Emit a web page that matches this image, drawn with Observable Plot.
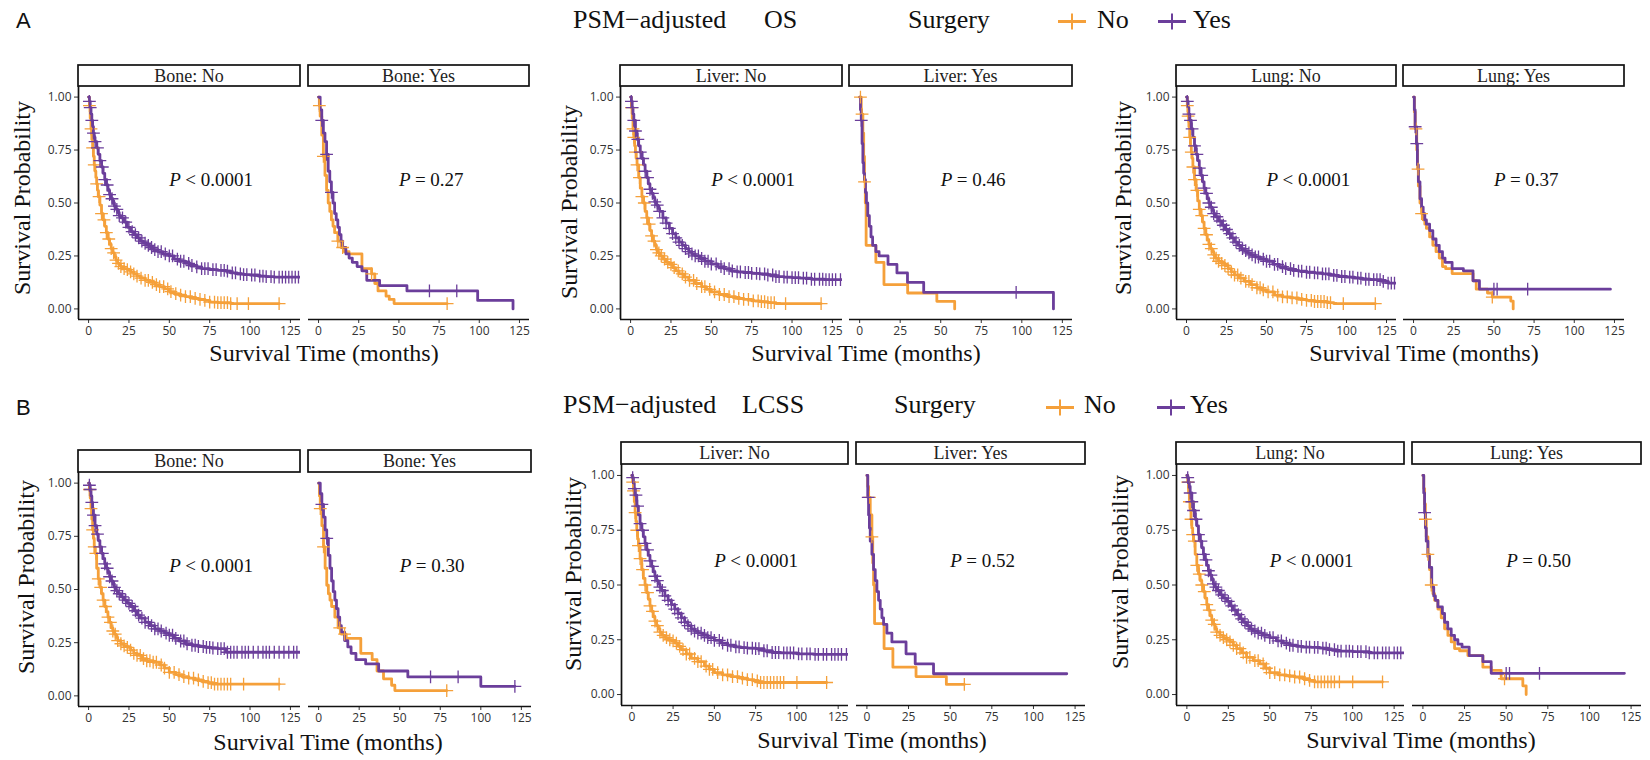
<!DOCTYPE html>
<html><head><meta charset="utf-8">
<script src="https://cdn.jsdelivr.net/npm/d3@7"></script>
<script src="https://cdn.jsdelivr.net/npm/@observablehq/plot@0.6"></script>
<style>
body{margin:0;background:#fff;}
#fig{position:relative;width:1650px;height:760px;overflow:hidden;background:#fff;}
</style></head>
<body><div id="fig"></div>
<script>
// ---------- DATA (time in months, survival probability) ----------
const xTicks = [0, 25, 50, 75, 100, 125];
const yTicks = [0, 0.25, 0.5, 0.75, 1];
const groupsSurgery = ["No", "Yes"];
const rowTitles = ["OS", "LCSS"];
const sites = ["Bone", "Liver", "Lung"];

// Row A (OS)
const aBoneNoS0 = [[0,1],[0.5,0.96],[1,0.9],[1.5,0.85],[2,0.8],[2.5,0.76],[3,0.72],[3.5,0.68],[4,0.65],[4.5,0.62],[5,0.59],[5.5,0.56],[6,0.53],[7,0.49],[8,0.45],[9,0.42],[10,0.39],[11,0.36],[12,0.33],[13,0.305],[14,0.285],[15,0.265],[16,0.245],[17,0.23],[18,0.215],[19,0.205],[20,0.2],[22,0.19],[24,0.185],[26,0.175],[28,0.165],[30,0.155],[32,0.145],[35,0.135],[38,0.125],[41,0.115],[44,0.105],[47,0.095],[50,0.082],[53,0.072],[56,0.065],[60,0.058],[64,0.05],[68,0.045],[72,0.04],[75,0.032],[80,0.03],[88,0.025],[118,0.025]];
const aBoneNoS1 = [[0,1],[0.5,0.98],[1,0.95],[1.5,0.92],[2,0.89],[2.5,0.86],[3,0.83],[3.5,0.81],[4,0.79],[5,0.76],[6,0.73],[7,0.7],[8,0.67],[9,0.64],[10,0.61],[11,0.585],[12,0.56],[13,0.54],[14,0.52],[15,0.5],[16,0.485],[17,0.47],[18,0.455],[19,0.44],[20,0.43],[22,0.41],[24,0.385],[26,0.365],[28,0.35],[30,0.335],[32,0.32],[34,0.31],[36,0.3],[38,0.29],[40,0.28],[43,0.27],[46,0.26],[50,0.25],[53,0.235],[56,0.225],[60,0.215],[63,0.205],[67,0.198],[70,0.19],[75,0.185],[80,0.182],[85,0.178],[88,0.17],[92,0.165],[96,0.162],[100,0.16],[105,0.155],[110,0.152],[115,0.15],[133,0.15]];
const aBoneYesS0 = [[0,1],[0.5,0.96],[1,0.91],[2,0.82],[3,0.72],[4,0.63],[5,0.56],[6,0.5],[7,0.46],[8,0.42],[9,0.39],[10,0.36],[12,0.32],[14,0.29],[16,0.27],[19,0.26],[27,0.19],[33,0.165],[35,0.12],[37,0.085],[42,0.06],[44,0.045],[47,0.025],[80,0.025]];
const aBoneYesS1 = [[0,1],[1,0.94],[2,0.89],[3,0.83],[4,0.79],[5,0.73],[6,0.65],[7,0.6],[8,0.55],[9,0.5],[10,0.45],[11,0.42],[12,0.385],[13,0.35],[14,0.32],[15,0.29],[17,0.26],[19,0.24],[21,0.22],[24,0.2],[27,0.18],[30,0.135],[38,0.11],[55,0.085],[99,0.04],[121,0]];
const aLiverNoS0 = [[0,1],[0.5,0.95],[1,0.9],[1.5,0.85],[2,0.81],[2.5,0.77],[3,0.74],[3.5,0.71],[4,0.68],[5,0.62],[6,0.57],[7,0.53],[8,0.5],[9,0.46],[10,0.43],[11,0.4],[12,0.37],[13,0.345],[14,0.32],[15,0.3],[16,0.28],[17,0.265],[18,0.25],[20,0.235],[22,0.22],[24,0.21],[26,0.195],[28,0.18],[30,0.165],[33,0.15],[36,0.135],[40,0.12],[44,0.105],[47,0.092],[50,0.08],[55,0.068],[60,0.058],[65,0.05],[70,0.045],[75,0.038],[80,0.034],[85,0.03],[90,0.025],[118,0.025]];
const aLiverNoS1 = [[0,1],[0.5,0.98],[1,0.95],[1.5,0.92],[2,0.89],[3,0.84],[4,0.8],[5,0.77],[6,0.74],[7,0.71],[8,0.68],[9,0.65],[10,0.62],[11,0.59],[12,0.565],[13,0.545],[14,0.525],[15,0.505],[16,0.49],[17,0.475],[18,0.46],[20,0.43],[22,0.405],[24,0.38],[26,0.355],[28,0.335],[30,0.315],[32,0.3],[34,0.285],[36,0.27],[38,0.26],[40,0.25],[43,0.238],[46,0.225],[50,0.212],[54,0.2],[58,0.19],[62,0.18],[66,0.175],[70,0.172],[75,0.168],[80,0.165],[85,0.16],[90,0.152],[95,0.15],[100,0.148],[105,0.145],[112,0.14],[120,0.138],[133,0.138]];
const aLiverYesS0 = [[0,1],[1,0.92],[2,0.83],[2.5,0.72],[3,0.6],[3.5,0.5],[4,0.3],[10,0.22],[15,0.115],[29.6,0.075],[47.6,0.036],[58.6,0]];
const aLiverYesS1 = [[0,1],[0.5,0.94],[1,0.89],[1.5,0.78],[2,0.69],[2.5,0.64],[3,0.61],[3.6,0.55],[4.2,0.5],[5,0.44],[6,0.39],[7,0.34],[8,0.3],[10,0.27],[12,0.25],[17.5,0.21],[23,0.17],[29.5,0.125],[39.5,0.078],[119.5,0]];
const aLungNoS0 = [[0,1],[0.5,0.96],[1,0.91],[1.5,0.86],[2,0.81],[2.5,0.77],[3,0.74],[3.5,0.71],[4,0.67],[5,0.61],[6,0.56],[7,0.51],[8,0.47],[9,0.44],[10,0.41],[11,0.38],[12,0.35],[13,0.325],[14,0.305],[15,0.285],[16,0.27],[17,0.255],[18,0.24],[20,0.225],[22,0.215],[24,0.205],[26,0.19],[28,0.175],[30,0.16],[33,0.145],[36,0.13],[40,0.115],[44,0.1],[47,0.09],[50,0.08],[55,0.065],[60,0.057],[65,0.052],[70,0.045],[75,0.04],[80,0.035],[88,0.03],[92,0.025],[118,0.025]];
const aLungNoS1 = [[0,1],[0.5,0.98],[1,0.95],[1.5,0.92],[2,0.89],[3,0.85],[4,0.81],[5,0.77],[6,0.73],[7,0.7],[8,0.665],[9,0.63],[10,0.6],[11,0.57],[12,0.545],[13,0.52],[14,0.5],[15,0.48],[16,0.465],[17,0.45],[18,0.435],[20,0.415],[22,0.395],[24,0.375],[26,0.355],[28,0.335],[30,0.315],[32,0.3],[34,0.285],[36,0.275],[38,0.265],[40,0.255],[43,0.245],[46,0.235],[50,0.225],[54,0.21],[58,0.2],[62,0.19],[66,0.182],[70,0.178],[75,0.173],[80,0.17],[85,0.165],[90,0.158],[95,0.153],[100,0.15],[105,0.145],[110,0.14],[115,0.138],[122,0.13],[126,0.122],[133,0.122]];
const aLungYesS0 = [[0,1],[0.5,0.93],[1,0.85],[2,0.75],[2.5,0.66],[3,0.58],[4,0.5],[5,0.45],[6,0.42],[7,0.4],[8,0.38],[10,0.34],[12,0.3],[14,0.27],[16,0.24],[18,0.2],[20,0.19],[24,0.167],[37,0.133],[39,0.093],[46,0.075],[49,0.056],[60.5,0.037],[62,0]];
const aLungYesS1 = [[0,1],[0.5,0.94],[1,0.86],[1.8,0.78],[2.4,0.68],[3,0.6],[4,0.52],[5,0.48],[6,0.45],[7,0.42],[8,0.4],[10,0.37],[12,0.33],[14,0.3],[16,0.27],[18,0.24],[19.6,0.22],[24,0.19],[31,0.18],[37,0.133],[41,0.093],[122.5,0.093]];

// Row B (LCSS)
const bBoneNoS0 = [[0,1],[0.5,0.97],[1,0.93],[1.5,0.88],[2,0.83],[2.5,0.78],[3,0.74],[3.5,0.7],[4,0.67],[5,0.6],[6,0.55],[7,0.51],[8,0.48],[9,0.45],[10,0.42],[11,0.395],[12,0.37],[13,0.345],[14,0.32],[15,0.305],[16,0.29],[17,0.275],[18,0.26],[20,0.245],[22,0.235],[24,0.228],[26,0.215],[28,0.2],[30,0.19],[33,0.175],[36,0.165],[40,0.158],[44,0.145],[47,0.13],[50,0.11],[54,0.1],[58,0.09],[62,0.083],[66,0.075],[70,0.068],[74,0.062],[77,0.055],[118,0.055]];
const bBoneNoS1 = [[0,1],[0.5,0.99],[1,0.97],[1.5,0.94],[2,0.91],[2.5,0.88],[3,0.85],[4,0.8],[5,0.76],[6,0.73],[7,0.7],[8,0.67],[9,0.645],[10,0.62],[11,0.6],[12,0.58],[13,0.56],[14,0.54],[15,0.525],[16,0.51],[17,0.495],[18,0.48],[20,0.465],[22,0.45],[24,0.435],[26,0.42],[28,0.4],[30,0.38],[32,0.365],[35,0.345],[38,0.33],[41,0.315],[44,0.305],[47,0.295],[50,0.285],[53,0.27],[56,0.258],[60,0.245],[64,0.238],[68,0.232],[72,0.228],[76,0.225],[80,0.222],[85,0.205],[133,0.205]];
const bBoneYesS0 = [[0,1],[0.5,0.94],[1,0.88],[2,0.8],[3,0.7],[4,0.6],[5,0.52],[6,0.48],[7,0.45],[8,0.42],[10,0.37],[12,0.32],[14,0.29],[17,0.27],[26,0.2],[33,0.17],[36,0.117],[40,0.08],[45,0.05],[47,0.025],[79,0.025]];
const bBoneYesS1 = [[0,1],[1,0.95],[2,0.9],[3,0.84],[4,0.78],[5,0.74],[6,0.66],[7,0.6],[8,0.54],[9,0.49],[10,0.45],[11,0.41],[12,0.37],[13,0.33],[14,0.3],[16,0.26],[18,0.23],[20,0.2],[23,0.17],[29,0.15],[37,0.117],[55,0.089],[100,0.045],[121,0.045]];
const bLiverNoS0 = [[0,1],[0.5,0.97],[1,0.93],[1.5,0.88],[2,0.83],[2.5,0.79],[3,0.75],[3.5,0.71],[4,0.68],[5,0.62],[6,0.57],[7,0.53],[8,0.5],[9,0.465],[10,0.435],[11,0.405],[12,0.38],[13,0.355],[14,0.335],[15,0.315],[16,0.3],[17,0.285],[18,0.27],[20,0.26],[22,0.25],[24,0.245],[26,0.235],[28,0.22],[30,0.205],[33,0.185],[36,0.165],[40,0.15],[44,0.13],[47,0.115],[50,0.1],[55,0.09],[60,0.082],[65,0.075],[70,0.068],[74,0.062],[77,0.055],[118,0.055]];
const bLiverNoS1 = [[0,1],[0.5,0.99],[1,0.97],[1.5,0.94],[2,0.91],[3,0.86],[4,0.82],[5,0.78],[6,0.75],[7,0.72],[8,0.69],[9,0.66],[10,0.635],[11,0.61],[12,0.585],[13,0.56],[14,0.54],[15,0.52],[16,0.505],[17,0.49],[18,0.475],[20,0.45],[22,0.43],[24,0.41],[26,0.39],[28,0.37],[30,0.35],[32,0.33],[34,0.315],[36,0.3],[38,0.29],[40,0.28],[43,0.27],[46,0.26],[50,0.247],[54,0.235],[58,0.225],[62,0.218],[66,0.214],[70,0.212],[75,0.21],[80,0.2],[85,0.192],[90,0.19],[100,0.186],[110,0.183],[133,0.183]];
const bLiverYesS0 = [[0,1],[0.5,0.95],[1,0.9],[2,0.82],[3,0.72],[3.5,0.6],[4,0.5],[4.6,0.324],[10.3,0.21],[15.6,0.125],[29.5,0.082],[47.7,0.046],[58.5,0.046]];
const bLiverYesS1 = [[0,1],[0.5,0.9],[1,0.82],[1.5,0.76],[2,0.7],[3,0.64],[4,0.57],[5,0.52],[6,0.47],[7,0.43],[8,0.39],[9,0.35],[10,0.32],[12,0.28],[15,0.24],[23.5,0.186],[29,0.14],[40,0.095],[120,0.095]];
const bLungNoS0 = [[0,1],[0.5,0.97],[1,0.92],[1.5,0.88],[2,0.84],[2.5,0.8],[3,0.76],[3.5,0.73],[4,0.7],[5,0.64],[6,0.59],[7,0.55],[8,0.52],[9,0.5],[10,0.47],[11,0.44],[12,0.41],[13,0.385],[14,0.36],[15,0.34],[16,0.32],[17,0.3],[18,0.285],[20,0.27],[22,0.26],[24,0.25],[26,0.24],[28,0.225],[30,0.21],[33,0.19],[36,0.17],[40,0.155],[44,0.14],[47,0.12],[50,0.1],[55,0.09],[60,0.085],[65,0.08],[70,0.072],[74,0.065],[77,0.058],[118,0.058]];
const bLungNoS1 = [[0,1],[0.5,0.99],[1,0.97],[1.5,0.95],[2,0.92],[3,0.88],[4,0.84],[5,0.8],[6,0.77],[7,0.73],[8,0.7],[9,0.67],[10,0.64],[11,0.615],[12,0.59],[13,0.565],[14,0.545],[15,0.525],[16,0.505],[17,0.49],[18,0.475],[20,0.455],[22,0.44],[24,0.425],[26,0.405],[28,0.385],[30,0.365],[32,0.345],[34,0.33],[36,0.315],[38,0.3],[40,0.29],[43,0.28],[46,0.27],[50,0.26],[54,0.245],[58,0.235],[62,0.225],[66,0.22],[70,0.216],[75,0.215],[80,0.212],[85,0.205],[90,0.198],[100,0.196],[110,0.19],[133,0.19]];
const bLungYesS0 = [[0,1],[0.5,0.94],[1,0.87],[1.5,0.8],[2,0.72],[3,0.64],[4,0.57],[5,0.5],[6,0.46],[7,0.43],[9,0.39],[11,0.35],[13,0.3],[15,0.27],[17,0.24],[19,0.21],[22,0.2],[27,0.178],[36,0.125],[41,0.11],[47,0.072],[60,0.04],[62,0]];
const bLungYesS1 = [[0,1],[0.5,0.92],[1,0.83],[1.5,0.76],[2,0.7],[3,0.63],[3.9,0.58],[5.3,0.49],[6.5,0.45],[7.5,0.43],[9,0.4],[11.7,0.37],[13,0.33],[14.9,0.3],[17,0.27],[19,0.25],[21,0.23],[23.5,0.216],[27.8,0.178],[36,0.15],[41,0.097],[121,0.097]];

// censoring times (+ marks)
const aBoneNoC0 = [0.5,1.5,2.5,3.5,5,6.5,8,9.5,11,12.5,14,15.5,17,18.5,20,22,24,26,28,30,32.5,35,37,39.5,42,44,46.5,49,51,54,57,60,63,66,69,72,75,78,80,82,84,86,88,92,99,118];
const aBoneNoC1 = [0.5,1,2,3,4,5.5,7,8.5,10,11.5,13,14.5,16,17.5,19,21,23,25,27,29,31,33,35,37,39,41,43,45,47.5,50,52,55,57,59,62,64,67,70,72,74,77,79,82,84,86,89,91,94,96,98,101,103,106,108,110,113,115,118,120,122,124,126,128,130];
const aBoneYesC0 = [0.5,3,12,15,33,80];
const aBoneYesC1 = [2,5,8,69,86];
const aLiverNoC0 = [0.5,1.5,2,3,4,5.5,7,8.5,10,11.5,13,14.5,16,17.5,19,21,23,25,27,29.5,32,34,36.5,39,41,44,46,49,52,55,58,61,64,67,70,73,76,79,81,83,85,87,89,96,118];
const aLiverNoC1 = [0.5,1,2,3,4.5,6,7.5,9,10.5,12,13.5,15,16.5,18,20,22,24,26,28,30,32,34,36,38,40,42,44,46,48,50,53,56,58,61,63,66,68,71,73,75,78,80,83,85,88,90,92,95,97,100,102,104,107,109,112,114,117,119,121,123,125,127,130];
const aLiverYesC0 = [0.5,1.5,3];
const aLiverYesC1 = [1,96.5];
const aLungNoC0 = [0.5,1,2,3,4,5,6.5,8,9.5,11,12.5,14,15.5,17,18.5,20,22,24,26,28,30,32,34,37,39,41,44,46,48,51,54,57,60,63,66,69,72,75,78,80,82,84,86,88,90,98,118];
const aLungNoC1 = [0.5,1.5,2.5,3.5,5,6.5,8,9.5,11,12.5,14,15.5,17,19,21,23,25,27,29,31,33,35,37,39,41,43,45,48,50,52,55,57,60,62,65,67,70,72,75,77,80,82,85,87,89,92,94,97,99,102,104,107,109,112,114,117,119,121,123,126,128,130];
const aLungYesC0 = [1.5,2.8,5,49];
const aLungYesC1 = [1,2,50,52,71];
const bBoneNoC0 = [0.5,1.5,2.5,3.5,4.5,6,7.5,9,10.5,12,13.5,15,16.5,18,20,22,24,26,28,30,32,34,36,38,40,42,45,47,50,53,56,59,62,65,68,71,74,76,78,80,82,84,86,88,96,118];
const bBoneNoC1 = [0.5,1,2,3,4,5.5,7,8.5,10,11.5,13,14.5,16,17.5,19,21,23,25,27,29,31,33,35,37,39,41,43,45,48,50,52,54,57,59,61,64,66,68,71,73,75,77,80,82,84,86,88,90,92,95,97,99,102,105,108,110,112,115,118,121,124,127,129];
const bBoneYesC0 = [1,3,13,16,79];
const bBoneYesC1 = [2,5,69,86,121];
const bLiverNoC0 = [0.5,1,2,3,4,5,6.5,8,9.5,11,12.5,14,15.5,17,19,21,23,25,27,29,31,33,35,38,40,42,45,47,49,52,55,58,61,64,67,70,73,76,78,80,82,84,86,88,90,92,100,118];
const bLiverNoC1 = [0.5,1.5,2.5,3.5,5,6.5,8,9.5,11,12.5,14,15.5,17,18.5,20,22,24,26,28,30,32,34,36,38,40,42,44,46,48,50,53,55,58,60,63,65,68,70,73,75,77,80,82,85,87,89,92,94,96,98,101,103,106,108,111,113,116,118,121,123,125,127,130];
const bLiverYesC0 = [1.5,3,58.5];
const bLiverYesC1 = [0.8];
const bLungNoC0 = [0.5,1.5,2.5,3.5,4.5,6,7.5,9,10.5,12,13.5,15,16.5,18,20,22,24,26,28,30,32,34,36,38,41,43,46,48,50,53,56,59,62,65,68,71,74,77,79,81,83,85,87,89,92,100,118];
const bLungNoC1 = [0.5,1,2,3,4,5.5,7,8.5,10,11.5,13,14.5,16,17.5,19,21,23,25,27,29,31,33,35,37,39,41,43,45,47,50,52,55,57,60,62,64,67,69,72,74,77,79,82,84,86,89,91,93,96,98,100,103,105,108,110,113,115,118,120,122,125,127,129];
const bLungYesC0 = [1.5,3,5,49];
const bLungYesC1 = [1,50,52,70];

// p-values per panel (Bone/Liver/Lung; No/Yes)
const pA = ["< 0.0001", "= 0.27", "< 0.0001", "= 0.46", "< 0.0001", "= 0.37"];
const pB = ["< 0.0001", "= 0.30", "< 0.0001", "= 0.52", "< 0.0001", "= 0.50"];

// ---------- STYLE / LAYOUT ----------
const COL = {No: "#F5A03A", Yes: "#6B3E9B"};
const X_DOMAIN = [-6.25, 131.25];
const Y_DOMAIN = [-0.05, 1.05];
const SERIF = "'Liberation Serif', 'Times New Roman', serif";
const SANS = "'Open Sans', sans-serif";

// group geometry: [noL, noR, yesL, yesR, top, bottom, stripTop]
const geomA = [[78,300,308,529,86,319,65],[620,842,849,1072,86,319,65],[1176,1396,1403,1624,86,319,65]];
const geomB = [[78,300,308,531,472,706,450],[621,848,856,1085,464,705,442],[1176,1404,1412,1641,464,705,442]];

const curves = {
  A: {Bone: [[aBoneNoS0,aBoneNoC0,aBoneNoS1,aBoneNoC1],[aBoneYesS0,aBoneYesC0,aBoneYesS1,aBoneYesC1]],
      Liver: [[aLiverNoS0,aLiverNoC0,aLiverNoS1,aLiverNoC1],[aLiverYesS0,aLiverYesC0,aLiverYesS1,aLiverYesC1]],
      Lung: [[aLungNoS0,aLungNoC0,aLungNoS1,aLungNoC1],[aLungYesS0,aLungYesC0,aLungYesS1,aLungYesC1]]},
  B: {Bone: [[bBoneNoS0,bBoneNoC0,bBoneNoS1,bBoneNoC1],[bBoneYesS0,bBoneYesC0,bBoneYesS1,bBoneYesC1]],
      Liver: [[bLiverNoS0,bLiverNoC0,bLiverNoS1,bLiverNoC1],[bLiverYesS0,bLiverYesC0,bLiverYesS1,bLiverYesC1]],
      Lung: [[bLungNoS0,bLungNoC0,bLungNoS1,bLungNoC1],[bLungYesS0,bLungYesC0,bLungYesS1,bLungYesC1]]}
};

function survAt(curve, t) {
  let s = curve[0][1];
  for (const [x, y] of curve) { if (x <= t) s = y; else break; }
  return s;
}

const fig = document.getElementById("fig");
const mL = 44, mR = 6, mT = 4, mB = 30;

function drawPanel(L, R, T, B, leftAxis, set, pText) {
  const [s0, c0, s1, c1] = set;
  const marks = [];
  marks.push(Plot.ruleY([Y_DOMAIN[0]], {stroke: "#111", strokeWidth: 1.7}));
  if (leftAxis) marks.push(Plot.ruleX([X_DOMAIN[0]], {stroke: "#111", strokeWidth: 1.7}));
  const series = [[s0, c0, COL.No], [s1, c1, COL.Yes]];
  for (const [s, , col] of series) {
    marks.push(Plot.line(s, {x: d => d[0], y: d => d[1], curve: "step-after", stroke: col, strokeWidth: 2.8, clip: true}));
  }
  for (const [s, c, col] of series) {
    const pts = c.map(t => [t, survAt(s, t)]);
    marks.push(Plot.dot(pts, {x: d => d[0], y: d => d[1], symbol: "plus", r: 4.2, stroke: col, strokeWidth: 1.3, clip: true}));
  }
  marks.push(Plot.text(["P"], {x: 50, y: 0.61, text: d => d, textAnchor: "start", fontStyle: "italic", fontFamily: SERIF, fontSize: 19, fill: "#111"}));
  marks.push(Plot.text([pText], {x: 50, y: 0.61, dx: 16, text: d => d, textAnchor: "start", fontFamily: SERIF, fontSize: 19, fill: "#111"}));
  const svg = Plot.plot({
    width: (R - L) + mL + mR, height: (B - T) + mT + mB,
    marginLeft: mL, marginRight: mR, marginTop: mT, marginBottom: mB,
    x: {domain: X_DOMAIN, ticks: xTicks, tickSize: 4, tickPadding: 3, label: null},
    y: {domain: Y_DOMAIN, ticks: yTicks, tickFormat: d3.format(".2f"), tickSize: 4, tickPadding: 3, label: null, axis: leftAxis ? "left" : null},
    style: {fontFamily: SANS, fontSize: "12px", color: "#333", background: "transparent", overflow: "visible"},
    marks
  });
  svg.style.position = "absolute";
  svg.style.left = (L - mL) + "px";
  svg.style.top = (T - mT) + "px";
  fig.appendChild(svg);
}

// overlay for strips, titles, legends
const ov = d3.create("svg").attr("width", 1650).attr("height", 760)
  .style("position", "absolute").style("left", 0).style("top", 0);

function strip(L, R, top, bottom, label) {
  ov.append("rect").attr("x", L).attr("y", top).attr("width", R - L).attr("height", bottom - top)
    .attr("fill", "#fff").attr("stroke", "#111").attr("stroke-width", 1.7);
  ov.append("text").attr("x", (L + R) / 2).attr("y", (top + bottom) / 2).attr("dy", "0.36em")
    .attr("text-anchor", "middle").attr("font-family", SERIF).attr("font-size", 18).attr("fill", "#222").text(label);
}

const rows = [
  {key: "A", geom: geomA, p: pA, xt: [[324,361],[866,361],[1424,361]], yt: [[30,198],[577,202],[1131,198]]},
  {key: "B", geom: geomB, p: pB, xt: [[328,750],[872,748],[1421,748]], yt: [[34,577],[581,574],[1128,572]]}
];

rows.forEach(row => {
  sites.forEach((site, i) => {
    const [nL, nR, yL, yR, T, B, sT] = row.geom[i];
    const sets = curves[row.key][site];
    drawPanel(nL, nR, T, B, true, sets[0], row.p[i * 2]);
    drawPanel(yL, yR, T, B, false, sets[1], row.p[i * 2 + 1]);
    strip(nL, nR, sT, T, `${site}: ${groupsSurgery[0]}`);
    strip(yL, yR, sT, T, `${site}: ${groupsSurgery[1]}`);
    ov.append("text").attr("x", row.xt[i][0]).attr("y", row.xt[i][1]).attr("text-anchor", "middle")
      .attr("font-family", SERIF).attr("font-size", 24).attr("fill", "#111").text("Survival Time (months)");
    ov.append("text").attr("transform", `translate(${row.yt[i][0]},${row.yt[i][1]}) rotate(-90)`).attr("text-anchor", "middle")
      .attr("font-family", SERIF).attr("font-size", 24).attr("fill", "#111").text("Survival Probability");
  });
});

// headers
const headers = [
  {letter: "A", ly: 28, base: 28, psm: 573, meas: 764, measure: rowTitles[0], surg: 908, k1: 1058, n1: 1097, k2: 1158, n2: 1193, ky: 21.5},
  {letter: "B", ly: 415, base: 413, psm: 563, meas: 742, measure: rowTitles[1], surg: 894, k1: 1046, n1: 1084, k2: 1157, n2: 1190, ky: 407.5}
];
headers.forEach(h => {
  ov.append("text").attr("x", 16).attr("y", h.ly).attr("font-family", "'Liberation Sans', Arial, sans-serif")
    .attr("font-size", 22).attr("fill", "#111").text(h.letter);
  const t = (x, s) => ov.append("text").attr("x", x).attr("y", h.base).attr("font-family", SERIF)
    .attr("font-size", 26).attr("fill", "#111").text(s);
  t(h.psm, "PSM\u2212adjusted");
  t(h.meas, h.measure);
  t(h.surg, "Surgery");
  [[h.k1, COL.No, h.n1, groupsSurgery[0]], [h.k2, COL.Yes, h.n2, groupsSurgery[1]]].forEach(([kx, col, nx, lab]) => {
    ov.append("line").attr("x1", kx).attr("x2", kx + 28).attr("y1", h.ky).attr("y2", h.ky)
      .attr("stroke", col).attr("stroke-width", 3);
    ov.append("line").attr("x1", kx + 14).attr("x2", kx + 14).attr("y1", h.ky - 8).attr("y2", h.ky + 8)
      .attr("stroke", col).attr("stroke-width", 2);
    t(nx, lab);
  });
});

fig.appendChild(ov.node());
</script>
</body></html>
